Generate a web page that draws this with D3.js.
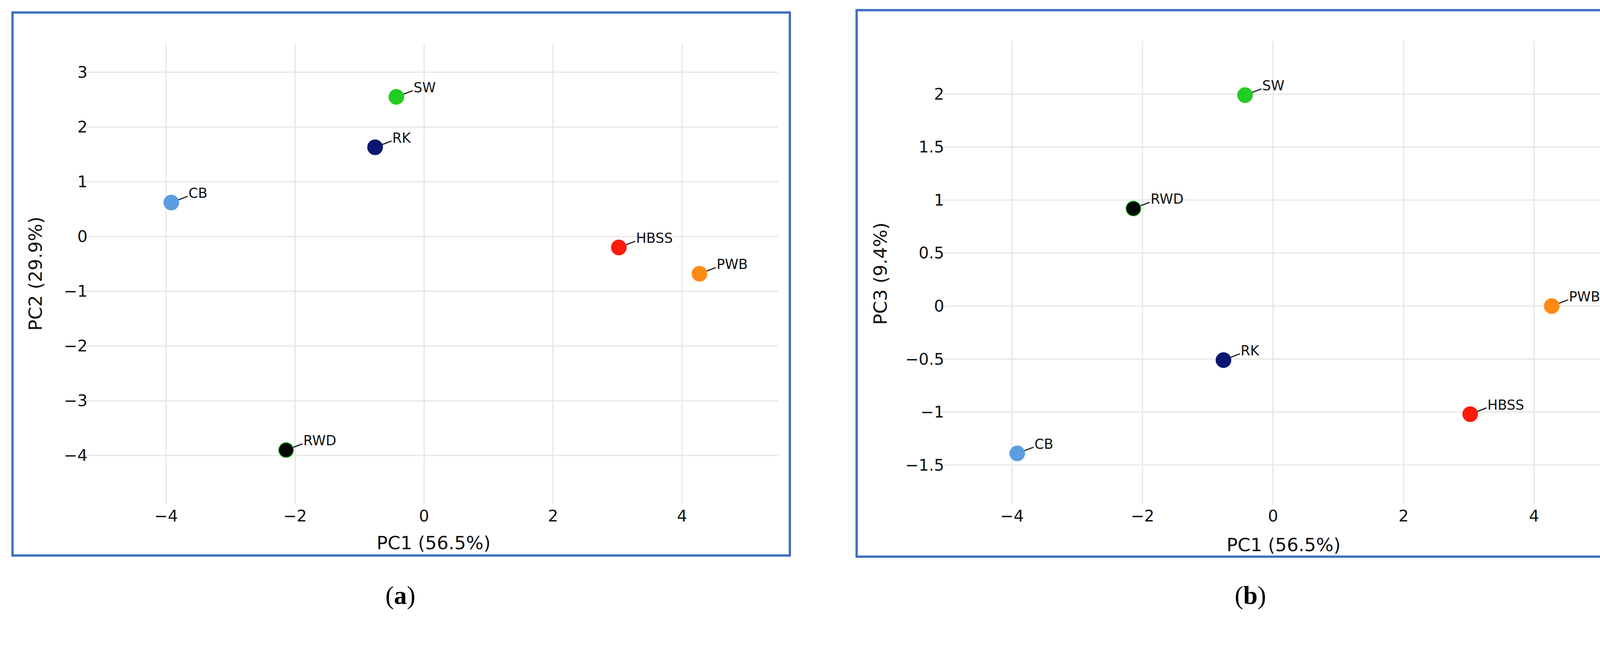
<!DOCTYPE html>
<html lang="en">
<head>
<meta charset="UTF-8">
<title>PCA</title>
<script src="https://d3js.org/d3.v7.min.js"></script>
<style>body{margin:0;background:#fff;}</style>
</head>
<body>
<script>
    const width = 4244, height = 1673;

    const samples = ["SW", "RK", "CB", "HBSS", "PWB", "RWD"];
    const colors  = ["#22cc22", "#0b1670", "#5b9ee0", "#ff1a0a", "#ff8a14", "#050505"];
    const pc1 = [-0.43, -0.76, -3.92, 3.02, 4.27, -2.14];
    const pc2 = [2.55, 1.63, 0.62, -0.20, -0.68, -3.90];
    const pc3 = [1.99, -0.51, -1.39, -1.02, 0.00, 0.92];
    const xTicks = [-4, -2, 0, 2, 4];
    const yTicksA = [3, 2, 1, 0, -1, -2, -3, -4];
    const yTicksB = [2, 1.5, 1, 0.5, 0, -0.5, -1, -1.5];

    const svg = d3.select("body").append("svg").attr("width", width).attr("height", height);
    const font = "DejaVu Sans, Verdana, sans-serif";

    function panel(p) {
        const g = svg.append("g");
        g.append("rect").attr("x", p.frame[0]).attr("y", p.frame[1])
            .attr("width", p.frame[2] - p.frame[0]).attr("height", p.frame[3] - p.frame[1])
            .attr("fill", "none").attr("stroke", "#4472c4").attr("stroke-width", 6);

        const x = d3.scaleLinear().domain(p.xDomain).range([p.plot[0], p.plot[2]]);
        const y = d3.scaleLinear().domain(p.yDomain).range([p.plot[3], p.plot[1]]);

        g.append("g").selectAll("line").data(xTicks).join("line")
            .attr("x1", d => x(d)).attr("x2", d => x(d))
            .attr("y1", p.plot[1]).attr("y2", p.plot[3])
            .attr("stroke", "#e6e6e6").attr("stroke-width", 3);
        g.append("g").selectAll("line").data(p.yTicks).join("line")
            .attr("y1", d => y(d)).attr("y2", d => y(d))
            .attr("x1", p.plot[0]).attr("x2", p.plot[2])
            .attr("stroke", "#e6e6e6").attr("stroke-width", 3);

        const fmt = d => String(d).replace("-", "\u2212");
        g.append("g").selectAll("text").data(xTicks).join("text")
            .attr("x", d => x(d)).attr("y", p.plot[3] + 44)
            .attr("text-anchor", "middle").attr("font-family", font).attr("font-size", 41)
            .attr("fill", "#111").text(fmt);
        g.append("g").selectAll("text").data(p.yTicks).join("text")
            .attr("x", p.plot[0] + 10).attr("y", d => y(d) + 14)
            .attr("text-anchor", "end").attr("font-family", font).attr("font-size", 41)
            .attr("fill", "#111").text(fmt);

        g.append("text").attr("x", p.xTitle[0]).attr("y", p.xTitle[1])
            .attr("text-anchor", "middle").attr("font-family", font).attr("font-size", 47)
            .attr("fill", "#111").text("PC1 (56.5%)");
        g.append("text").attr("transform", "translate(" + p.yTitle + ") rotate(-90)")
            .attr("text-anchor", "middle").attr("font-family", font).attr("font-size", 47)
            .attr("fill", "#111").text(p.yLabel);

        const pts = g.append("g").selectAll("g").data(samples).join("g")
            .attr("transform", (d, i) => "translate(" + [x(pc1[i]), y(p.ys[i])] + ")");
        pts.append("line").attr("x1", 0).attr("y1", 0).attr("x2", 42).attr("y2", -16)
            .attr("stroke", "#222").attr("stroke-width", 3);
        pts.append("circle").attr("r", 19)
            .attr("fill", (d, i) => colors[i])
            .attr("stroke", (d, i) => d === "RWD" ? "#22cc22" : colors[i]).attr("stroke-width", 2);
        pts.append("text").attr("x", 44).attr("y", -12)
            .attr("font-family", font).attr("font-size", 35).attr("fill", "#111").text(d => d);

        const cap = g.append("text").attr("x", p.caption[0]).attr("y", p.caption[1])
            .attr("text-anchor", "middle").attr("font-family", "Liberation Serif, serif")
            .attr("font-size", 66).attr("fill", "#000");
        cap.append("tspan").text("(");
        cap.append("tspan").attr("font-weight", "bold").text(p.letter);
        cap.append("tspan").text(")");
    }

    panel({
        frame: [32, 32, 2022, 1421], plot: [214, 112, 1992, 1290],
        xDomain: [-5.28, 5.49], yDomain: [-4.89, 3.52], yTicks: yTicksA, ys: pc2,
        yLabel: "PC2 (29.9%)", xTitle: [1110, 1405], yTitle: [107, 700],
        caption: [1025, 1545], letter: "a"
    });
    panel({
        frame: [2193, 26, 4212, 1424], plot: [2407, 105, 4178, 1290],
        xDomain: [-5.1, 5.5], yDomain: [-1.87, 2.5], yTicks: yTicksB, ys: pc3,
        yLabel: "PC3 (9.4%)", xTitle: [3286, 1410], yTitle: [2270, 700],
        caption: [3201, 1545], letter: "b"
    });
</script>
</body>
</html>
